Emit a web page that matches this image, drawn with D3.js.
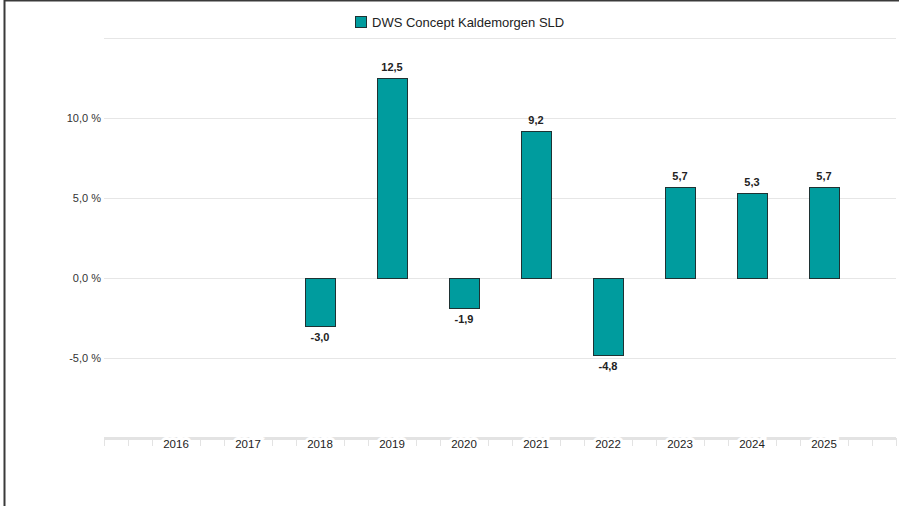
<!DOCTYPE html>
<html>
<head>
<meta charset="utf-8">
<script src="https://cdn.jsdelivr.net/npm/d3@7"></script>
<style>
  body { margin: 0; background: #fff; }
  svg { display: block; font-family: "Liberation Sans", Arial, sans-serif; }
</style>
</head>
<body>
<div id="chart"></div>
<script>
// yearly performance, null = no data
let years = ["2016", "2017", "2018", "2019", "2020", "2021", "2022", "2023", "2024", "2025"];
let values = [null, null, -3.0, 12.5, -1.9, 9.2, -4.8, 5.7, 5.3, 5.7];
let yTicks = [-10, -5, 0, 5, 10, 15];
let yLabelTicks = [-5, 0, 5, 10];
let seriesName = "DWS Concept Kaldemorgen SLD";

let width = 899, height = 506;
let plot = { left: 104, right: 896, top: 38, bottom: 438 };
let barColour = "#009c9e";
let locale = d3.formatLocale({ decimal: ",", thousands: ".", grouping: [3], currency: ["", " €"], minus: "-" });
let fmt = locale.format(".1f");

let svg = d3.select("#chart")
    .append("svg")
    .attr("width", width)
    .attr("height", height);

// frame (only left and top edges visible in the picture)
svg.append("line").attr("x1", 4.5).attr("x2", 4.5).attr("y1", 0).attr("y2", height)
    .attr("stroke", "#3a3a3a").attr("stroke-width", 2);
svg.append("line").attr("x1", 4).attr("x2", width).attr("y1", 0.5).attr("y2", 0.5)
    .attr("stroke", "#3a3a3a").attr("stroke-width", 2);

// x in category index units, one empty slot on each side
let xIdx = d3.scaleLinear().domain([-1, years.length]).range([plot.left, plot.right]);
let x = d3.scaleBand()
    .domain(years)
    .range([xIdx(-0.5), xIdx(years.length - 0.5)])
    .paddingInner(42 / 72)
    .paddingOuter(21 / 72);

let y = d3.scaleLinear().domain([-10, 15]).range([plot.bottom, plot.top]);

// gridlines
svg.append("g")
    .selectAll("line")
    .data(yTicks.filter((t) => t !== -10))
    .enter()
    .append("line")
    .attr("x1", plot.left)
    .attr("x2", plot.right)
    .attr("y1", (d) => Math.round(y(d)) + 0.5)
    .attr("y2", (d) => Math.round(y(d)) + 0.5)
    .attr("stroke", "#e6e6e6");

// y labels
svg.append("g")
    .selectAll("text")
    .data(yLabelTicks)
    .enter()
    .append("text")
    .attr("x", 101)
    .attr("y", (d) => y(d) + 4)
    .attr("text-anchor", "end")
    .attr("font-size", 11)
    .attr("fill", "#333")
    .text((d) => fmt(d) + " %");

// x axis: minor ticks every third of a category, labels at category centres
let xAxis = svg.append("g").attr("transform", `translate(0,${plot.bottom})`);
xAxis.append("line")
    .attr("x1", plot.left).attr("x2", plot.right)
    .attr("y1", 0.5).attr("y2", 0.5)
    .attr("stroke", "#e3e3e3").attr("stroke-width", 3);
xAxis.selectAll(".mtick")
    .data(d3.range(-1, years.length + 0.001, 1 / 3))
    .enter()
    .append("line")
    .attr("class", "mtick")
    .attr("x1", (d) => Math.round(xIdx(d)) + 0.5)
    .attr("x2", (d) => Math.round(xIdx(d)) + 0.5)
    .attr("y1", 0).attr("y2", 8)
    .attr("stroke", "#e3e3e3");
xAxis.selectAll(".xlab")
    .data(years)
    .enter()
    .append("text")
    .attr("class", "xlab")
    .attr("x", (d) => x(d) + x.bandwidth() / 2)
    .attr("y", 10)
    .attr("text-anchor", "middle")
    .attr("font-size", 11.5)
    .attr("fill", "#222")
    .style("paint-order", "stroke")
    .attr("stroke", "#fff")
    .attr("stroke-width", 6)
    .text((d) => d);

// bars
let data = years.map((yr, i) => ({ year: yr, value: values[i] })).filter((d) => d.value !== null);

svg.append("g")
    .selectAll("rect")
    .data(data)
    .enter()
    .append("rect")
    .attr("x", (d) => Math.round(x(d.year)) + 0.5)
    .attr("y", (d) => Math.round(y(Math.max(0, d.value))) + 0.5)
    .attr("width", x.bandwidth())
    .attr("height", (d) => Math.round(Math.abs(y(d.value) - y(0))))
    .attr("fill", barColour)
    .attr("stroke", "#1e3233")
    .attr("stroke-width", 1);

svg.append("g")
    .selectAll("text")
    .data(data)
    .enter()
    .append("text")
    .attr("x", (d) => x(d.year) + x.bandwidth() / 2)
    .attr("y", (d) => d.value >= 0 ? y(d.value) - 7 : y(d.value) + 15)
    .attr("text-anchor", "middle")
    .attr("font-size", 11)
    .attr("font-weight", "bold")
    .attr("fill", "#222")
    .text((d) => fmt(d.value));

// legend
let legend = svg.append("g").attr("transform", "translate(355,16)");
legend.append("rect")
    .attr("x", 0.5).attr("y", 0.5)
    .attr("width", 11).attr("height", 11)
    .attr("fill", barColour)
    .attr("stroke", "#1e3233");
legend.append("text")
    .attr("x", 17)
    .attr("y", 10.5)
    .attr("font-size", 13)
    .attr("fill", "#222")
    .text(seriesName);
</script>
</body>
</html>
